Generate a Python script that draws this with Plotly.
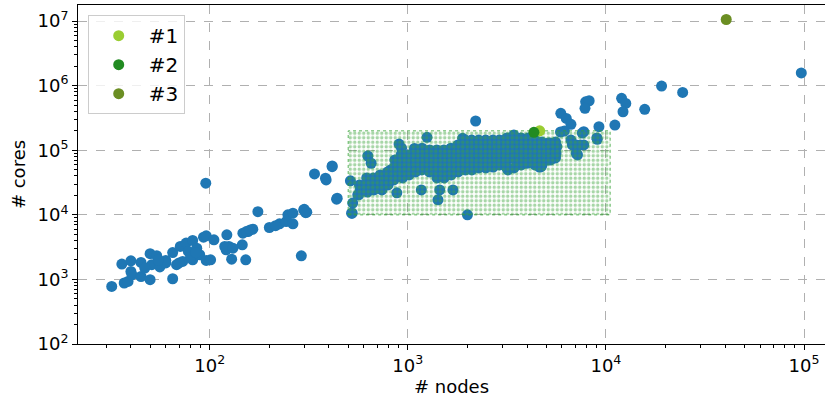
import plotly.graph_objects as go

# ---- data (nodes, cores) ----
small_nodes = [32, 36, 37, 38.7, 40, 40, 40.5, 45, 45, 50, 50, 51, 54, 56, 60, 65, 65, 68, 71, 73,
               76, 78, 82, 82, 86, 89, 93, 96, 96, 101, 105, 95.5, 122, 125, 121, 129, 146, 152, 147, 156,
               165, 175, 200, 225, 243, 248, 263, 263, 290, 298, 309, 437, 387, 338, 384, 415, 440, 119, 131, 153,
               160, 215, 80, 70, 85, 60, 47, 55]
small_cores = [780, 1730, 880, 930, 1945, 1330, 1180, 1110, 1830, 2500, 990, 1690, 2330, 1560, 1970, 1025, 2610, 1690, 3240, 1900,
               3650, 2710, 4010, 2010, 3050, 2410, 4520, 4730, 1970, 2010, 4110, 31000, 4910, 3240, 2880, 2060, 3440, 2010, 5210, 5520,
               6010, 11200, 6370, 7260, 7880, 10000, 10600, 7260, 2320, 11900, 11000, 17500, 34800, 43000, 36900, 57200, 18100, 3240, 3050, 5500,
               5850, 6800, 2200, 1800, 2600, 1800, 1500, 2000]

mid_nodes = [300, 305, 513, 527, 524, 559, 592, 628, 653, 903, 1080, 1250, 818, 2200, 1890, 1690, 2000, 1420,
             1449, 1170, 880, 740, 3180, 3940, 4640, 415, 520]
mid_cores = [12200, 10800, 33600, 15200, 10600, 20400, 24300, 81600, 63000, 125000, 107000, 159000, 49700, 284000, 153000, 24300, 10000, 17100,
             24300, 24300, 21900, 24300, 52700, 63000, 55800, 55800, 10600]

band_nodes = [570, 575, 565, 620, 615, 625, 670, 665, 675, 725, 720, 730, 790, 785, 795,
              860, 855, 865, 850, 930, 925, 935, 920, 940, 1010, 1000, 1020, 1015,
              1090, 1080, 1100, 1095, 1180, 1170, 1190, 1175, 1290, 1280, 1300, 1285,
              1400, 1390, 1410, 1395, 1405, 1520, 1510, 1530, 1515, 1525,
              1650, 1640, 1660, 1645, 1655, 1790, 1780, 1800, 1785, 1795,
              1950, 1940, 1960, 1945, 1955, 2100, 2090, 2110, 2095, 2105,
              2280, 2270, 2290, 2275, 2285, 2470, 2460, 2480, 2465, 2475,
              2690, 2680, 2700, 2685, 2695, 2900, 2890, 2910, 2895, 2905,
              3160, 3150, 3170, 3155, 3165, 3430, 3420, 3440, 3425, 3435,
              3730, 3720, 3740, 3725, 3735, 4050, 4040, 4060, 4045, 4055,
              4380, 4370, 4390, 4375, 4385, 4750, 4740, 4760, 4745, 4755,
              5120, 5110, 5130, 5115, 5570, 5560, 5580, 5565]
band_cores = [29100, 24300, 20400, 37300, 29100, 22600, 37300, 30000, 24300, 41500, 33000, 26100, 46300, 36000, 29100,
              70800, 55000, 44000, 34800, 108000, 84600, 65000, 50000, 37300, 84600, 65000, 50000, 41500,
              101000, 80000, 62000, 46300, 108000, 84600, 65000, 49700, 101000, 78000, 60000, 46300,
              101000, 80000, 62000, 47000, 37300, 101000, 80000, 62000, 47000, 37300,
              108000, 84600, 65000, 50000, 41500, 121000, 94000, 73000, 56000, 46300,
              144000, 110000, 85000, 65000, 49700, 144000, 110000, 85000, 65000, 49700,
              144000, 110000, 85000, 65000, 53300, 144000, 110000, 85000, 65000, 53300,
              144000, 110000, 85000, 65000, 55000, 144000, 110000, 85000, 65000, 59300,
              155000, 120000, 92000, 70000, 53300, 172000, 130000, 100000, 75000, 53300,
              155000, 120000, 92000, 70000, 59300, 155000, 120000, 92000, 70000, 63700,
              144000, 115000, 90000, 70000, 59300, 134000, 108000, 85000, 65000, 59300,
              130000, 105000, 85000, 70800, 134000, 108000, 85000, 76000]

big_nodes = [7900, 8230, 7840, 5920, 6310, 6660, 6170, 7730, 9220, 9040, 11100, 12000, 12600, 12200, 15700,
             6660, 7080, 7730, 7190, 5340, 5650, 5260, 4710, 19100, 24400, 96900, 7080, 6770, 7440,
             5900, 7600, 9000, 5200, 5600, 4620, 3200]
big_cores = [563000, 585000, 446000, 373000, 312000, 252000, 199000, 194000, 232000, 148000, 246000, 637000, 532000, 395000, 431000,
             144000, 121000, 121000, 84600, 128000, 114000, 70800, 55800, 986000, 788000, 1580000, 90000, 121000, 121000,
             192000, 185000, 155000, 130000, 91000, 55000, 49700]

top_names = ["#1", "#2", "#3"]
top_nodes = [4630, 4330, 40500]
top_cores = [200000, 190000, 10600000]
top_colors = ["#9acd32", "#228b22", "#6b8e23"]

# highlighted region (nodes range, cores range)
region_nodes = [500, 10500]
region_cores = [10000, 200000]

xticks = [100, 1000, 10000, 100000]
xtick_text = ["10<sup>2</sup>", "10<sup>3</sup>", "10<sup>4</sup>", "10<sup>5</sup>"]
yticks = [100, 1000, 10000, 100000, 1000000, 10000000]
ytick_text = ["10<sup>2</sup>", "10<sup>3</sup>", "10<sup>4</sup>", "10<sup>5</sup>", "10<sup>6</sup>", "10<sup>7</sup>"]

all_nodes = small_nodes + mid_nodes + band_nodes + big_nodes
all_cores = small_cores + mid_cores + band_cores + big_cores

FONT = "DejaVu Sans"
fig = go.Figure()
fig.add_trace(go.Scatter(x=all_nodes, y=all_cores, mode="markers",
                         marker=dict(color="#1f77b4", size=11, line=dict(width=0)),
                         showlegend=False, hoverinfo="skip"))

rx = [region_nodes[0], region_nodes[1], region_nodes[1], region_nodes[0], region_nodes[0]]
ry = [region_cores[0], region_cores[0], region_cores[1], region_cores[1], region_cores[0]]
fig.add_trace(go.Scatter(x=rx, y=ry, mode="lines", fill="toself",
                         line=dict(color="rgba(50,160,50,0.8)", width=1, dash="dot"),
                         fillcolor="rgba(0,0,0,0)",
                         fillpattern=dict(shape=".", fgcolor="rgba(60,165,60,0.9)",
                                          bgcolor="rgba(0,0,0,0)", size=4.5, solidity=0.45),
                         showlegend=False, hoverinfo="skip"))

for n, x, y, c in zip(top_names, top_nodes, top_cores, top_colors):
    fig.add_trace(go.Scatter(x=[x], y=[y], mode="markers", name=n,
                             marker=dict(color=c, size=11, line=dict(width=0))))

def minor_vals(lo, hi):
    v = []
    for e in range(lo, hi):
        for k in range(2, 10):
            v.append(k * 10 ** e)
    return v

axis_common = dict(type="log", showgrid=True, gridcolor="#b0b0b0", griddash="dash", gridwidth=1,
                   showline=True, linecolor="black", linewidth=1, mirror=True,
                   ticks="outside", ticklen=5, tickcolor="black", zeroline=False,
                   automargin=False,
                   tickfont=dict(family=FONT, size=18, color="black"))

fig.update_layout(
    width=825, height=400,
    margin=dict(l=78, r=0, t=5, b=56),
    paper_bgcolor="white", plot_bgcolor="white",
    font=dict(family=FONT, color="black"),
    xaxis=dict(range=[1.335, 5.106], tickmode="array", tickvals=xticks, ticktext=xtick_text,
               minor=dict(tickmode="array", tickvals=minor_vals(1, 6), ticks="outside",
                          ticklen=3, tickcolor="black", showgrid=False),
               title=dict(text="# nodes", font=dict(family=FONT, size=18), standoff=2),
               **axis_common),
    yaxis=dict(range=[2, 7.25], tickmode="array", tickvals=yticks, ticktext=ytick_text,
               minor=dict(tickmode="array", tickvals=minor_vals(2, 8), ticks="outside",
                          ticklen=3, tickcolor="black", showgrid=False),
               title=dict(text="# cores", font=dict(family=FONT, size=18), standoff=7),
               **axis_common),
    legend=dict(x=0.013, y=0.97, xanchor="left", yanchor="top",
                bordercolor="#cccccc", borderwidth=1, bgcolor="rgba(255,255,255,0.8)",
                font=dict(family=FONT, size=20), itemwidth=50, tracegroupgap=0),
    showlegend=True,
)

fig.write_html("out.html", config={"displayModeBar": False},
               post_script="document.body.style.margin='0';document.body.style.padding='0';")
